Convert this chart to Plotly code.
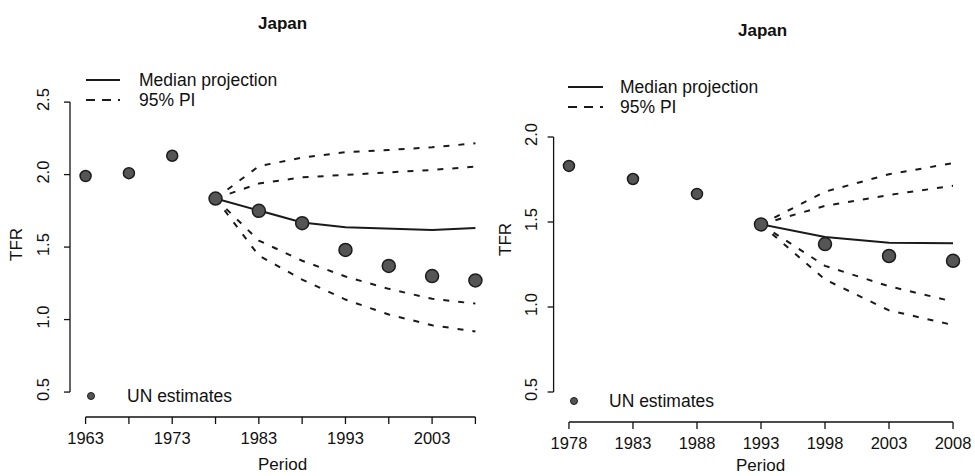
import plotly.graph_objects as go

# ---------------- data ----------------
left_years = [1963, 1968, 1973, 1978, 1983, 1988, 1993, 1998, 2003, 2008]
left_un = [1.99, 2.01, 2.13, 1.835, 1.75, 1.665, 1.48, 1.37, 1.30, 1.27]
left_proj_years = [1978, 1983, 1988, 1993, 1998, 2003, 2008]
left_median = [1.835, 1.752, 1.67, 1.637, 1.625, 1.618, 1.632]
left_upper_outer = [1.835, 2.058, 2.117, 2.154, 2.17, 2.188, 2.216]
left_upper_inner = [1.835, 1.938, 1.981, 1.998, 2.012, 2.032, 2.055]
left_lower_inner = [1.835, 1.545, 1.406, 1.297, 1.212, 1.143, 1.11]
left_lower_outer = [1.835, 1.441, 1.276, 1.138, 1.035, 0.961, 0.918]
left_xticks = [1963, 1968, 1973, 1978, 1983, 1988, 1993, 1998, 2003, 2008]
left_xlabels = ["1963", "", "1973", "", "1983", "", "1993", "", "2003", ""]
left_yticks = [0.5, 1.0, 1.5, 2.0, 2.5]

right_years = [1978, 1983, 1988, 1993, 1998, 2003, 2008]
right_un = [1.83, 1.753, 1.665, 1.486, 1.37, 1.30, 1.272]
right_proj_years = [1993, 1998, 2003, 2008]
right_median = [1.486, 1.412, 1.378, 1.375]
right_upper_outer = [1.486, 1.678, 1.781, 1.846]
right_upper_inner = [1.486, 1.595, 1.659, 1.713]
right_lower_inner = [1.486, 1.242, 1.122, 1.032]
right_lower_outer = [1.486, 1.162, 0.98, 0.894]
right_xticks = [1978, 1983, 1988, 1993, 1998, 2003, 2008]
right_xlabels = [str(v) for v in right_xticks]
right_yticks = [0.5, 1.0, 1.5, 2.0]

title_text = "Japan"
xlabel = "Period"
ylabel = "TFR"
legend_median = "Median projection"
legend_pi = "95% PI"
legend_un = "UN estimates"

# ---------------- style / layout ----------------
W, H = 975, 476
FONT = "Liberation Sans, Arial, sans-serif"
TXT = "#111111"
FILL = "#555555"
EDGE = "#1c1c1c"
LINE = "#1a1a1a"
FS_TICK = 16.5
FS_LAB = 17
FS_LEG = 17.5

# panel frames in pixels: (left, right), (bottom, top) and data ranges
P_LEFT = dict(px_x=(70.0, 491.0), px_y=(417.0, 66.0), xr=(1961.2, 2009.8), yr=(0.328, 2.749),
              stand_y=17)
P_RIGHT = dict(px_x=(553.6, 968.4), px_y=(422.0, 77.5), xr=(1976.8, 2009.2), yr=(0.3235, 2.35),
               stand_y=12)


def px(x):
    return x / W


def py(y):
    return 1 - y / H


def data_px_x(p, v):
    (a, b), (r0, r1) = p["px_x"], p["xr"]
    return a + (v - r0) / (r1 - r0) * (b - a)


def data_px_y(p, v):
    (a, b), (r0, r1) = p["px_y"], p["yr"]
    return a + (v - r0) / (r1 - r0) * (b - a)


fig = go.Figure()

panels = [
    dict(frame=P_LEFT, xa="x", ya="y", years=left_years, un=left_un, pyears=left_proj_years,
         med=left_median,
         bands=[left_upper_outer, left_upper_inner, left_lower_inner, left_lower_outer],
         start=1978, xt=left_xticks, xl=left_xlabels, yt=left_yticks),
    dict(frame=P_RIGHT, xa="x2", ya="y2", years=right_years, un=right_un, pyears=right_proj_years,
         med=right_median,
         bands=[right_upper_outer, right_upper_inner, right_lower_inner, right_lower_outer],
         start=1993, xt=right_xticks, xl=right_xlabels, yt=right_yticks),
]

for p in panels:
    for b in p["bands"]:
        fig.add_trace(go.Scatter(x=p["pyears"], y=b, mode="lines", xaxis=p["xa"], yaxis=p["ya"],
                                 line=dict(color=LINE, width=2, dash="6px,9px"),
                                 showlegend=False, hoverinfo="skip"))
    fig.add_trace(go.Scatter(x=p["pyears"], y=p["med"], mode="lines", xaxis=p["xa"], yaxis=p["ya"],
                             line=dict(color=LINE, width=2), showlegend=False, hoverinfo="skip"))
    sizes = [13 if yr >= p["start"] else 11 for yr in p["years"]]
    fig.add_trace(go.Scatter(x=p["years"], y=p["un"], mode="markers", xaxis=p["xa"], yaxis=p["ya"],
                             marker=dict(size=sizes, color=FILL, opacity=1,
                                         line=dict(color=EDGE, width=1.5)),
                             showlegend=False, cliponaxis=False, hoverinfo="skip"))

axis_common = dict(showgrid=False, zeroline=False, showline=False, ticks="",
                   tickfont=dict(family=FONT, size=FS_TICK, color=TXT))

layout_axes = {}
for i, p in enumerate(panels):
    f = p["frame"]
    sx = "" if i == 0 else str(i + 1)
    layout_axes["xaxis" + sx] = dict(domain=[px(f["px_x"][0]), px(f["px_x"][1])], range=list(f["xr"]),
                                     anchor="y" + sx, tickvals=p["xt"], ticktext=p["xl"],
                                     ticklabelstandoff=9, **axis_common)
    layout_axes["yaxis" + sx] = dict(domain=[py(f["px_y"][0]), py(f["px_y"][1])], range=list(f["yr"]),
                                     anchor="x" + sx, tickvals=p["yt"],
                                     ticktext=[f"{v:.1f}" for v in p["yt"]], tickangle=-90,
                                     ticklabelstandoff=f["stand_y"], **axis_common)

fig.update_layout(width=W, height=H, margin=dict(l=0, r=0, t=0, b=0, autoexpand=False),
                  paper_bgcolor="white", plot_bgcolor="white", showlegend=False, **layout_axes)

shapes = []
AX = dict(color="#111", width=1.3)
# R-style axes: line spanning the tick range only, plus outward tick marks
for p in panels:
    f = p["frame"]
    yb = f["px_y"][0]
    xl = f["px_x"][0]
    xs = [data_px_x(f, v) for v in p["xt"]]
    ys = [data_px_y(f, v) for v in p["yt"]]
    shapes.append(dict(type="line", xref="paper", yref="paper", x0=px(xs[0]), x1=px(xs[-1]),
                       y0=py(yb), y1=py(yb), line=AX))
    for x in xs:
        shapes.append(dict(type="line", xref="paper", yref="paper", x0=px(x), x1=px(x),
                           y0=py(yb), y1=py(yb + 7), line=AX))
    shapes.append(dict(type="line", xref="paper", yref="paper", x0=px(xl), x1=px(xl),
                       y0=py(ys[0]), y1=py(ys[-1]), line=AX))
    for y in ys:
        shapes.append(dict(type="line", xref="paper", yref="paper", x0=px(xl - 6), x1=px(xl),
                           y0=py(y), y1=py(y), line=AX))

annotations = []


def text(x, y, s, size=FS_LAB, bold=False, angle=0, xanchor="center"):
    annotations.append(dict(x=px(x), y=py(y), xref="paper", yref="paper",
                            text=f"<b>{s}</b>" if bold else s,
                            showarrow=False, textangle=angle, xanchor=xanchor, yanchor="middle",
                            font=dict(family=FONT, size=size, color=TXT)))


legends = [
    dict(lx0=86, lx1=120, ly1=80, ly2=100, tx=137, ux=91, uy=396, utx=125),
    dict(lx0=568, lx1=603, ly1=87, ly2=107, tx=618, ux=574, uy=401, utx=607),
]
for lg in legends:
    shapes.append(dict(type="line", xref="paper", yref="paper", x0=px(lg["lx0"]), x1=px(lg["lx1"]),
                       y0=py(lg["ly1"]), y1=py(lg["ly1"]), line=dict(color=LINE, width=2)))
    shapes.append(dict(type="line", xref="paper", yref="paper", x0=px(lg["lx0"]), x1=px(lg["lx1"]),
                       y0=py(lg["ly2"]), y1=py(lg["ly2"]),
                       line=dict(color=LINE, width=2, dash="9px,7px")))
    shapes.append(dict(type="circle", xref="paper", yref="paper", xsizemode="pixel", ysizemode="pixel",
                       xanchor=px(lg["ux"]), yanchor=py(lg["uy"]), x0=-3.5, x1=3.5, y0=-3.5, y1=3.5,
                       fillcolor=FILL, line=dict(color=EDGE, width=1)))
    text(lg["tx"], lg["ly1"], legend_median, size=FS_LEG, xanchor="left")
    text(lg["tx"], lg["ly2"], legend_pi, size=FS_LEG, xanchor="left")
    text(lg["utx"], lg["uy"], legend_un, size=FS_LEG, xanchor="left")

text(282, 23, title_text, bold=True)
text(762, 30, title_text, bold=True)
text(282, 464, xlabel)
text(760, 465, xlabel)
text(17, 245, ylabel, angle=-90)
text(505, 240, ylabel, angle=-90)

fig.update_layout(shapes=shapes, annotations=annotations)
fig.write_html("out.html", config={"displayModeBar": False},
               post_script="document.body.style.margin='0';document.body.style.overflow='hidden';")
